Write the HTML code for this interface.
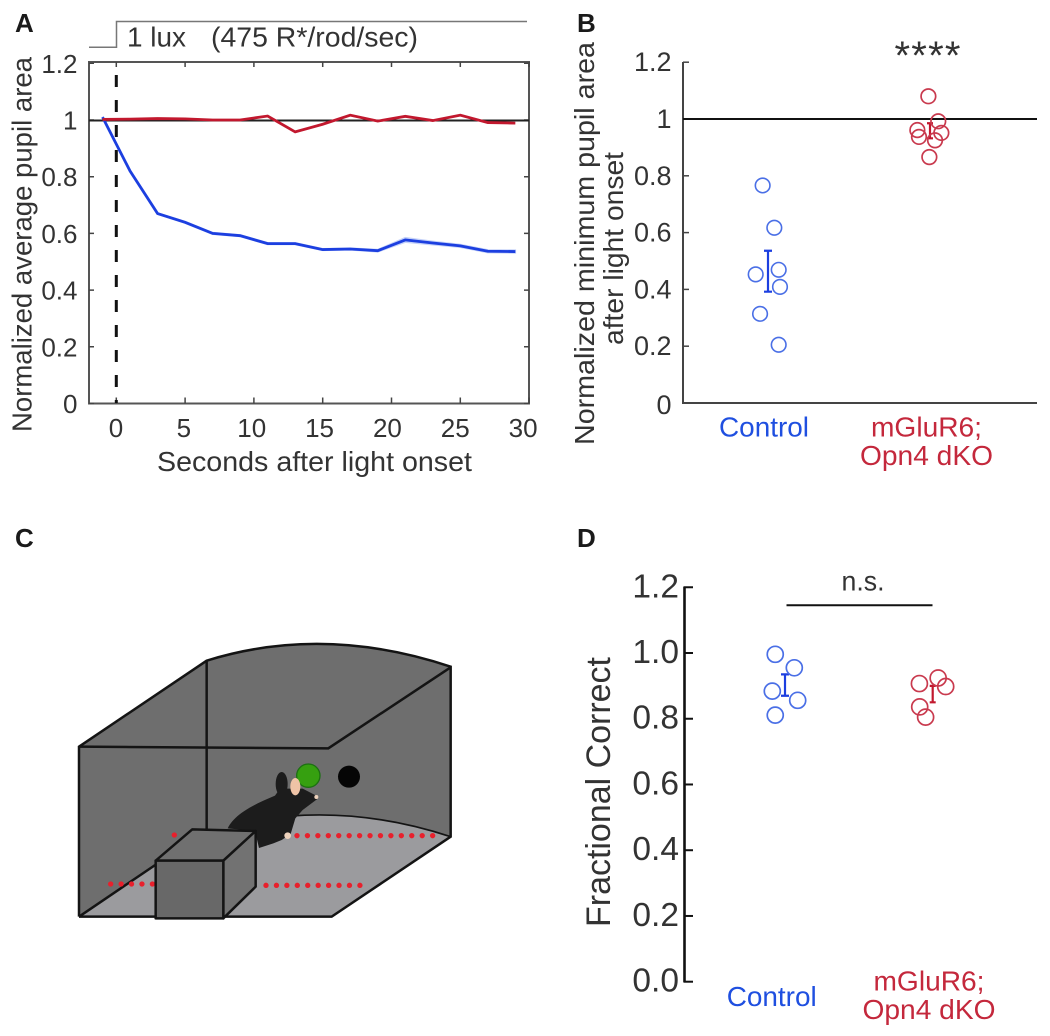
<!DOCTYPE html>
<html lang="en">
<head>
<meta charset="utf-8">
<title>Pupil area and behaviour figure</title>
<style>
html,body{margin:0;padding:0;background:#fff;}
#fig{display:block;width:1050px;height:1036px;filter:blur(0.35px);}
text{font-family:"Liberation Sans",sans-serif;fill:#333;}
.big{font-weight:bold;font-size:26px;fill:#1a1a1a;}
</style>
</head>
<body>
<svg id="fig" xmlns="http://www.w3.org/2000/svg" width="1050" height="1036" viewBox="0 0 1050 1036">
  <rect width="1050" height="1036" fill="#fff"/>
  <text class="big" x="15" y="32">A</text>
  <text class="big" x="577" y="32">B</text>
  <text class="big" x="15" y="547">C</text>
  <text class="big" x="577" y="547">D</text>

  <g id="panelA">
    <polyline points="89,47.3 116.5,47.3 116.5,21.5 527,21.5" fill="none" stroke="#777" stroke-width="1.5"/>
    <text x="127" y="46.5" font-size="27.5" textLength="59" lengthAdjust="spacingAndGlyphs">1 lux</text>
    <text x="211" y="46.5" font-size="27.5" textLength="207" lengthAdjust="spacingAndGlyphs">(475 R*/rod/sec)</text>
    <text transform="translate(31.5,432) rotate(-90)" font-size="27.5" textLength="375" lengthAdjust="spacingAndGlyphs">Normalized average pupil area</text>
    <text x="157" y="471" font-size="27.5" textLength="315" lengthAdjust="spacingAndGlyphs">Seconds after light onset</text>
  </g>

  <g id="panelB">
    <text transform="translate(594,445) rotate(-90)" font-size="28" textLength="403" lengthAdjust="spacingAndGlyphs">Normalized minimum pupil area</text>
    <text transform="translate(623,345) rotate(-90)" font-size="28" textLength="193" lengthAdjust="spacingAndGlyphs">after light onset</text>
    <text x="764" y="436.5" font-size="28" text-anchor="middle" style="fill:#1f4fe0" textLength="90" lengthAdjust="spacingAndGlyphs">Control</text>
    <text x="926.5" y="436.5" font-size="28" text-anchor="middle" style="fill:#c4283c" textLength="111" lengthAdjust="spacingAndGlyphs">mGluR6;</text>
    <text x="926.5" y="465" font-size="28" text-anchor="middle" style="fill:#c4283c" textLength="133" lengthAdjust="spacingAndGlyphs">Opn4 dKO</text>
    <text x="927.5" y="69" font-size="40" text-anchor="middle" textLength="66">****</text>
  </g>

  <g id="panelC" transform="translate(60,630) scale(0.33333)">
    <path d="M57 350 L440 92 Q790 -17 1172 110 L1172 620 L815 860 L57 860 Z" fill="#6e6e6e"/>
    <path d="M57 860 L440 598 L600 598 L690 558 Q930 540 1172 620 L815 860 Z" fill="#9b9b9e"/>
    <g fill="none" stroke="#141414" stroke-width="7.5">
      <path d="M57 860 L57 350 L440 92 Q790 -17 1172 110 L1172 620 L815 860 L57 860"/>
      <path d="M57 350 L805 355 L1172 112"/>
      <path d="M440 92 L440 600"/>
      <path d="M57 860 L290 702"/>
      <path d="M690 558 Q930 540 1172 620" stroke-width="5"/>
    </g>
    <ellipse cx="745" cy="437" rx="35" ry="35" fill="#36a010" stroke="#1c7012" stroke-width="4"/>
    <circle cx="867" cy="440" r="33" fill="#050505"/>
    <g>
      <path d="M503 595 C525 550 585 522 645 497 L660 476 L728 476 L765 495 L772 507 L728 540 L706 565 L692 612 L665 630 L640 640 L597 654 L585 603 Z" fill="#1c1c1c"/>
      <ellipse cx="665" cy="462" rx="18" ry="36" fill="#1c1c1c"/>
      <ellipse cx="706" cy="470" rx="15" ry="26" fill="#efc3a6"/>
      <circle cx="769" cy="501" r="6" fill="#eed2bc"/>
      <circle cx="683" cy="617" r="10" fill="#eed2bc"/>
    </g>
    <g id="redDots" fill="#e8202c"></g>
    <g stroke="#141414" stroke-width="7.5" stroke-linejoin="round" fill="#6a6a6a">
      <path d="M287 692 L397 598 L587 603 L490 692 Z" fill="#707070"/>
      <path d="M490 692 L587 603 L587 770 L490 865 Z" fill="#727272"/>
      <rect x="287" y="692" width="203" height="173" fill="#686868"/>
    </g>
  </g>

  <g id="panelD">
    <text transform="translate(610,927) rotate(-90)" font-size="34" textLength="270" lengthAdjust="spacingAndGlyphs">Fractional Correct</text>
    <text x="771.7" y="1006" font-size="28" text-anchor="middle" style="fill:#1f4fe0" textLength="90" lengthAdjust="spacingAndGlyphs">Control</text>
    <text x="929" y="990.5" font-size="28" text-anchor="middle" style="fill:#c4283c" textLength="111" lengthAdjust="spacingAndGlyphs">mGluR6;</text>
    <text x="929" y="1019" font-size="28" text-anchor="middle" style="fill:#c4283c" textLength="133" lengthAdjust="spacingAndGlyphs">Opn4 dKO</text>
    <line x1="786.5" x2="932.5" y1="605.3" y2="605.3" stroke="#111" stroke-width="2"/>
    <text x="863" y="590.5" font-size="28" text-anchor="middle" textLength="43" lengthAdjust="spacingAndGlyphs">n.s.</text>
  </g>
</svg>
<script>
// Panel A data
const timeSeconds = [-1, 1, 3, 5, 7, 9, 11, 13, 15, 17, 19, 21, 23, 25, 27, 29];
const controlPupil = [1.01, 0.82, 0.67, 0.639, 0.6, 0.592, 0.564, 0.564, 0.543, 0.545, 0.539, 0.577, 0.566, 0.556, 0.537, 0.536];
const controlSem = [0.001, 0.002, 0.002, 0.003, 0.003, 0.003, 0.003, 0.003, 0.003, 0.003, 0.004, 0.008, 0.006, 0.005, 0.005, 0.005];
const dkoPupil = [1.002, 1.003, 1.005, 1.004, 1, 1, 1.014, 0.958, 0.985, 1.017, 0.996, 1.013, 0.998, 1.017, 0.991, 0.989];
const xTicksA = [0, 5, 10, 15, 20, 25, 30];
const yTicksA = [0, 0.2, 0.4, 0.6, 0.8, 1, 1.2];
const yTickLabelsA = ['0', '0.2', '0.4', '0.6', '0.8', '1', '1.2'];

// Panel B data
const controlMinArea = [0.766, 0.617, 0.453, 0.469, 0.409, 0.314, 0.205];
const controlMinJitter = [-0.033, 0.039, -0.076, 0.066, 0.074, -0.049, 0.066];
const controlMinError = [0.392, 0.536];
const dkoMinArea = [1.08, 0.992, 0.961, 0.937, 0.925, 0.951, 0.866];
const dkoMinJitter = [-0.01, 0.051, -0.078, -0.068, 0.031, 0.07, -0.004];
const dkoMinError = [0.932, 0.985];

// Panel D data
const controlCorrect = [0.996, 0.955, 0.884, 0.856, 0.811];
const controlCorrectJitter = [-0.066, 0.063, -0.086, 0.086, -0.066];
const controlCorrectError = [0.87, 0.935];
const dkoCorrect = [0.924, 0.907, 0.898, 0.836, 0.805];
const dkoCorrectJitter = [0.037, -0.09, 0.088, -0.088, -0.048];
const dkoCorrectError = [0.85, 0.9];
const yTicksD = [0, 0.2, 0.4, 0.6, 0.8, 1, 1.2];
const yTickLabelsD = ['0.0', '0.2', '0.4', '0.6', '0.8', '1.0', '1.2'];

const SVGNS = 'http://www.w3.org/2000/svg';
const BLUE = '#1c3fe0';
const RED = '#c2182e';
const CIRCLE_BLUE = '#4a6fe6';
const CIRCLE_RED = '#c93a4e';

function make(tag, attrs, parent, txt) {
  const node = document.createElementNS(SVGNS, tag);
  Object.keys(attrs).forEach(function (k) { node.setAttribute(k, attrs[k]); });
  if (txt !== undefined) node.textContent = txt;
  parent.appendChild(node);
  return node;
}

// Axis functions
const xA = function (t) { return 116.3 + 13.76 * t; };
const xALabel = function (t) { return 116 + 13.57 * t; };
const yA = function (v) { return 403.5 - 283.5 * v; };
const yB = function (v) { return 403 - 284 * v; };
const xB = function (g) { return 768 + 162 * g; };
const yD = function (v) { return 981.7 - 328.7 * v; };
const xD = function (g) { return 785 + 147.7 * g; };

// Panel A
const panelA = document.getElementById('panelA');
let el = make('rect', {x: 89, y: 62, width: 440, height: 341.5, fill: 'none', stroke: '#555', 'stroke-width': 2}, panelA);



xTicksA.forEach(function (t) {
  let tick = make('path', {d: 'M' + xA(t) + ' 403.5v-6M' + xA(t) + ' 62v5', stroke: '#444', 'stroke-width': 1.5}, panelA);
  
  
  let lab = make('text', {x: xALabel(t), y: 437, 'font-size': 26, 'text-anchor': 'middle'}, panelA, String(t));
  
  
});
yTicksA.forEach(function (v, i) {
  let tick = make('path', {d: 'M89 ' + yA(v) + 'h5M529 ' + yA(v) + 'h-5', stroke: '#444', 'stroke-width': 1.5}, panelA);
  
  
  let lab = make('text', {x: 77.5, y: yA(v) + 9.5, 'font-size': 26, 'text-anchor': 'end'}, panelA, yTickLabelsA[i]);
  
  
});

el = make('line', {x1: 89, x2: 529, y1: yA(1) + 0.5, y2: yA(1) + 0.5, stroke: '#222', 'stroke-width': 2}, panelA);



el = make('line', {x1: xA(0), x2: xA(0), y1: 75, y2: 403, stroke: '#111', 'stroke-width': 3, 'stroke-dasharray': '12 13'}, panelA);



const upperBand = timeSeconds.map(function (t, i) { return xA(t) + ',' + yA(controlPupil[i] + controlSem[i]); });
const lowerBand = timeSeconds.map(function (t, i) { return xA(t) + ',' + yA(controlPupil[i] - controlSem[i]); }).reverse();
el = make('polygon', {points: upperBand.concat(lowerBand).join(' '), fill: '#9db2f6', stroke: '#c5d2f9', 'stroke-width': 1.5}, panelA);



el = make('polyline', {points: timeSeconds.map(function (t, i) { return xA(t) + ',' + yA(controlPupil[i]); }).join(' '), fill: 'none', stroke: BLUE, 'stroke-width': 2.8}, panelA);



el = make('polyline', {points: timeSeconds.map(function (t, i) { return xA(t) + ',' + yA(dkoPupil[i]); }).join(' '), fill: 'none', stroke: RED, 'stroke-width': 2.8}, panelA);



// Shared drawing for the point groups
function drawPoints(parent, values, jitter, group, xFn, yFn, r, colour, sw) {
  values.forEach(function (v, i) {
    const dot = make('circle', {cx: xFn(group + jitter[i]), cy: yFn(v), r: r, fill: 'none', stroke: colour, 'stroke-width': sw}, parent);
    
    
  });
}
function drawError(parent, range, group, xFn, yFn, colour, sw, cap) {
  const cx = xFn(group);
  const bar = make('path', {d: 'M' + cx + ' ' + yFn(range[0]) + 'V' + yFn(range[1]) + 'M' + (cx - cap) + ' ' + yFn(range[0]) + 'h' + (2 * cap) + 'M' + (cx - cap) + ' ' + yFn(range[1]) + 'h' + (2 * cap), fill: 'none', stroke: colour, 'stroke-width': sw}, parent);
  
  
}

// Panel B
const panelB = document.getElementById('panelB');
el = make('path', {d: 'M683 62V403H1037', fill: 'none', stroke: '#444', 'stroke-width': 2}, panelB);


yTicksA.forEach(function (v, i) {
  let tick = make('line', {x1: 683, x2: 689, y1: yB(v), y2: yB(v), stroke: '#444', 'stroke-width': 1.5}, panelB);
  
  
  let lab = make('text', {x: 671.5, y: yB(v) + 9 + (v === 0 ? 2 : 0), 'font-size': 27, 'text-anchor': 'end'}, panelB, yTickLabelsA[i]);
  
  
});
el = make('line', {x1: 683, x2: 1037, y1: yB(1), y2: yB(1), stroke: '#111', 'stroke-width': 2}, panelB);


drawError(panelB, controlMinError, 0, xB, yB, BLUE, 2.2, 4);
drawError(panelB, dkoMinError, 1, xB, yB, RED, 2.2, 3);
drawPoints(panelB, controlMinArea, controlMinJitter, 0, xB, yB, 7.3, CIRCLE_BLUE, 1.6);
drawPoints(panelB, dkoMinArea, dkoMinJitter, 1, xB, yB, 7.3, CIRCLE_RED, 1.7);

// Panel D
const panelD = document.getElementById('panelD');
el = make('line', {x1: 684.5, x2: 684.5, y1: 586.5, y2: 982.5, stroke: '#111', 'stroke-width': 2.6}, panelD);


yTicksD.forEach(function (v, i) {
  let tick = make('line', {x1: 684, x2: 693, y1: yD(v), y2: yD(v), stroke: '#111', 'stroke-width': 2}, panelD);
  
  
  let lab = make('text', {x: 679, y: yD(v) + 10, 'font-size': 33.5, 'text-anchor': 'end'}, panelD, yTickLabelsD[i]);
  
  
});
drawError(panelD, controlCorrectError, 0, xD, yD, BLUE, 2.2, 4);
drawError(panelD, dkoCorrectError, 1, xD, yD, RED, 2.2, 3);
drawPoints(panelD, controlCorrect, controlCorrectJitter, 0, xD, yD, 8, CIRCLE_BLUE, 1.7);
drawPoints(panelD, dkoCorrect, dkoCorrectJitter, 1, xD, yD, 8, CIRCLE_RED, 1.7);

// Illustration beam dots
const redDots = document.getElementById('redDots');
function dotRow(startX, y, count) {
  for (let i = 0; i < count; i++) {
    const d = make('circle', {cx: startX + 31.3 * i, cy: y, r: 8}, redDots);
    
    
  }
}
dotRow(711, 617, 14);
dotRow(343, 615, 1);
dotRow(618, 766, 10);
dotRow(152, 762, 5);
</script>
</body>
</html>
